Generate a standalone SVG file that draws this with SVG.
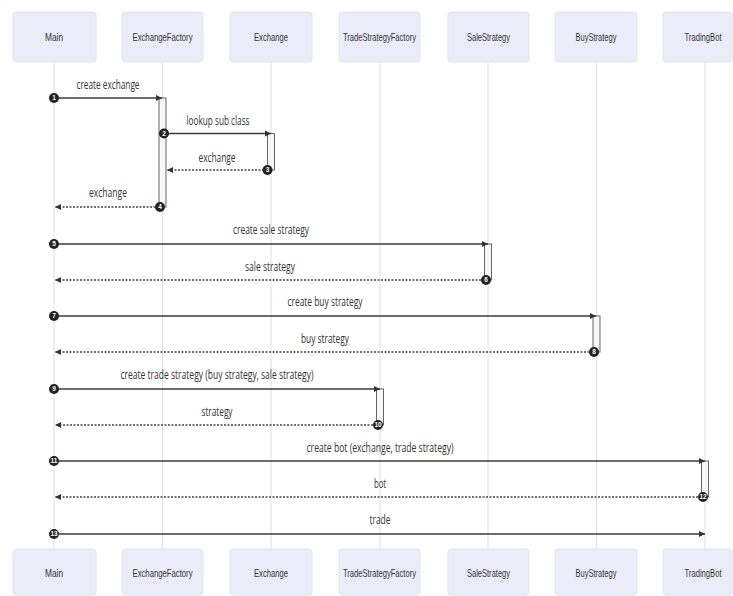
<svg xmlns="http://www.w3.org/2000/svg" width="733" height="596" viewBox="0 0 733 596">
<style>
.box{fill:#ececf9;stroke:#e3e3f1;stroke-width:1}
.atext{font-family:"Liberation Sans",Arial,sans-serif;font-size:10.5px;fill:#333;text-anchor:middle}
.life{stroke:#dedede;stroke-width:1}
.act{fill:#f7f7f7;stroke:#666;stroke-width:1}
.msg{stroke:#3a3a3a;stroke-width:1.5;fill:none}
.ret{stroke:#444;stroke-width:1.5;fill:none;stroke-dasharray:2,1.5}
.lbl{font-family:"Open Sans","Liberation Sans",sans-serif;font-size:12px;fill:#333;text-anchor:middle}
.num{fill:#222}
.ntext{font-family:"Liberation Sans",Arial,sans-serif;font-size:6.5px;font-weight:bold;fill:#fff;text-anchor:middle}
</style>
<defs>
<marker id="arrow" markerWidth="7" markerHeight="7" refX="6" refY="3.5" orient="auto" markerUnits="userSpaceOnUse">
<path d="M0,0.5 L6,3.5 L0,6.5 z" fill="#333"/>
</marker>
</defs>
<rect width="733" height="596" fill="#ffffff"/>
<g id="lifelines">
<line class="life" x1="54" y1="62" x2="54" y2="549"/>
<line class="life" x1="162.5" y1="62" x2="162.5" y2="549"/>
<line class="life" x1="271" y1="62" x2="271" y2="549"/>
<line class="life" x1="380" y1="62" x2="380" y2="549"/>
<line class="life" x1="488" y1="62" x2="488" y2="549"/>
<line class="life" x1="596.5" y1="62" x2="596.5" y2="549"/>
<line class="life" x1="705" y1="62" x2="705" y2="549"/>
</g>
<g id="actor-Main">
<rect class="box" x="13" y="12" width="83" height="50" rx="3"/>
<text class="atext" x="54" y="40.5" textLength="18" lengthAdjust="spacingAndGlyphs">Main</text>
<rect class="box" x="13" y="549" width="83" height="46" rx="3"/>
<text class="atext" x="54" y="576.5" textLength="18" lengthAdjust="spacingAndGlyphs">Main</text>
</g>
<g id="actor-ExchangeFactory">
<rect class="box" x="122" y="12" width="81" height="50" rx="3"/>
<text class="atext" x="162.5" y="40.5" textLength="60" lengthAdjust="spacingAndGlyphs">ExchangeFactory</text>
<rect class="box" x="122" y="549" width="81" height="46" rx="3"/>
<text class="atext" x="162.5" y="576.5" textLength="60" lengthAdjust="spacingAndGlyphs">ExchangeFactory</text>
</g>
<g id="actor-Exchange">
<rect class="box" x="230" y="12" width="82" height="50" rx="3"/>
<text class="atext" x="271" y="40.5" textLength="34" lengthAdjust="spacingAndGlyphs">Exchange</text>
<rect class="box" x="230" y="549" width="82" height="46" rx="3"/>
<text class="atext" x="271" y="576.5" textLength="34" lengthAdjust="spacingAndGlyphs">Exchange</text>
</g>
<g id="actor-TradeStrategyFactory">
<rect class="box" x="339" y="12" width="81" height="50" rx="3"/>
<text class="atext" x="379.5" y="40.5" textLength="73" lengthAdjust="spacingAndGlyphs">TradeStrategyFactory</text>
<rect class="box" x="339" y="549" width="81" height="46" rx="3"/>
<text class="atext" x="379.5" y="576.5" textLength="73" lengthAdjust="spacingAndGlyphs">TradeStrategyFactory</text>
</g>
<g id="actor-SaleStrategy">
<rect class="box" x="448" y="12" width="81" height="50" rx="3"/>
<text class="atext" x="488.5" y="40.5" textLength="43" lengthAdjust="spacingAndGlyphs">SaleStrategy</text>
<rect class="box" x="448" y="549" width="81" height="46" rx="3"/>
<text class="atext" x="488.5" y="576.5" textLength="43" lengthAdjust="spacingAndGlyphs">SaleStrategy</text>
</g>
<g id="actor-BuyStrategy">
<rect class="box" x="555" y="12" width="82" height="50" rx="3"/>
<text class="atext" x="596" y="40.5" textLength="41" lengthAdjust="spacingAndGlyphs">BuyStrategy</text>
<rect class="box" x="555" y="549" width="82" height="46" rx="3"/>
<text class="atext" x="596" y="576.5" textLength="41" lengthAdjust="spacingAndGlyphs">BuyStrategy</text>
</g>
<g id="actor-TradingBot">
<rect class="box" x="663" y="12" width="69" height="50" rx="3"/>
<text class="atext" x="703" y="40.5" style="font-size:10px" textLength="37" lengthAdjust="spacingAndGlyphs">TradingBot</text>
<rect class="box" x="663" y="549" width="69" height="46" rx="3"/>
<text class="atext" x="703" y="576.5" style="font-size:10px" textLength="37" lengthAdjust="spacingAndGlyphs">TradingBot</text>
</g>
<g id="activations">
<rect class="act" x="159" y="98" width="7" height="109"/>
<rect class="act" x="267.5" y="133.5" width="7" height="36.5"/>
<rect class="act" x="484.5" y="244" width="7" height="36"/>
<rect class="act" x="593" y="316" width="7" height="36"/>
<rect class="act" x="376.5" y="389" width="7" height="36"/>
<rect class="act" x="701.5" y="461" width="7" height="36"/>
</g>
<g id="connectors">
<line class="msg" x1="54" y1="98" x2="162" y2="98" marker-end="url(#arrow)"/>
<line class="msg" x1="166" y1="133.5" x2="271" y2="133.5" marker-end="url(#arrow)"/>
<line class="ret" x1="267.5" y1="170" x2="167" y2="170" marker-end="url(#arrow)"/>
<line class="ret" x1="159" y1="207" x2="55" y2="207" marker-end="url(#arrow)"/>
<line class="msg" x1="54" y1="244" x2="488" y2="244" marker-end="url(#arrow)"/>
<line class="ret" x1="484.5" y1="280" x2="55" y2="280" marker-end="url(#arrow)"/>
<line class="msg" x1="54" y1="316" x2="596" y2="316" marker-end="url(#arrow)"/>
<line class="ret" x1="593" y1="352" x2="55" y2="352" marker-end="url(#arrow)"/>
<line class="msg" x1="54" y1="389" x2="380" y2="389" marker-end="url(#arrow)"/>
<line class="ret" x1="376.5" y1="425" x2="55" y2="425" marker-end="url(#arrow)"/>
<line class="msg" x1="54" y1="461" x2="705" y2="461" marker-end="url(#arrow)"/>
<line class="ret" x1="701.5" y1="497" x2="55" y2="497" marker-end="url(#arrow)"/>
<line class="msg" x1="54" y1="534" x2="705" y2="534" marker-end="url(#arrow)"/>

<text class="lbl" x="108" y="89" textLength="63" lengthAdjust="spacingAndGlyphs">create exchange</text>
<text class="lbl" x="218" y="125" textLength="63" lengthAdjust="spacingAndGlyphs">lookup sub class</text>
<text class="lbl" x="217" y="162" textLength="37" lengthAdjust="spacingAndGlyphs">exchange</text>
<text class="lbl" x="108" y="197" textLength="38" lengthAdjust="spacingAndGlyphs">exchange</text>
<text class="lbl" x="271" y="234" textLength="76" lengthAdjust="spacingAndGlyphs">create sale strategy</text>
<text class="lbl" x="270" y="271" textLength="50" lengthAdjust="spacingAndGlyphs">sale strategy</text>
<text class="lbl" x="325" y="306" textLength="75" lengthAdjust="spacingAndGlyphs">create buy strategy</text>
<text class="lbl" x="325" y="343" textLength="48" lengthAdjust="spacingAndGlyphs">buy strategy</text>
<text class="lbl" x="217" y="379" textLength="193" lengthAdjust="spacingAndGlyphs">create trade strategy (buy strategy, sale strategy)</text>
<text class="lbl" x="217" y="416" textLength="31" lengthAdjust="spacingAndGlyphs">strategy</text>
<text class="lbl" x="380" y="452" textLength="147" lengthAdjust="spacingAndGlyphs">create bot (exchange, trade strategy)</text>
<text class="lbl" x="380" y="488" textLength="12" lengthAdjust="spacingAndGlyphs">bot</text>
<text class="lbl" x="380" y="524" textLength="21" lengthAdjust="spacingAndGlyphs">trade</text>

<g class="num">
<circle cx="54" cy="98" r="5"/>
<circle cx="164" cy="133.5" r="5"/>
<circle cx="267.5" cy="170" r="5"/>
<circle cx="160" cy="207" r="5"/>
<circle cx="54" cy="244" r="5"/>
<circle cx="486" cy="280" r="5"/>
<circle cx="54" cy="316" r="5"/>
<circle cx="594" cy="352" r="5"/>
<circle cx="54" cy="389" r="5"/>
<circle cx="378" cy="425" r="5"/>
<circle cx="54" cy="461" r="5"/>
<circle cx="703" cy="497" r="5"/>
<circle cx="54" cy="534" r="5"/>
</g>
<text class="ntext" x="54" y="100.3">1</text>
<text class="ntext" x="164" y="135.8">2</text>
<text class="ntext" x="267.5" y="172.3">3</text>
<text class="ntext" x="160" y="209.3">4</text>
<text class="ntext" x="54" y="246.3">5</text>
<text class="ntext" x="486" y="282.3">6</text>
<text class="ntext" x="54" y="318.3">7</text>
<text class="ntext" x="594" y="354.3">8</text>
<text class="ntext" x="54" y="391.3">9</text>
<text class="ntext" x="378" y="427.3">10</text>
<text class="ntext" x="54" y="463.3">11</text>
<text class="ntext" x="703" y="499.3">12</text>
<text class="ntext" x="54" y="536.3">13</text>
</g>
</svg>
